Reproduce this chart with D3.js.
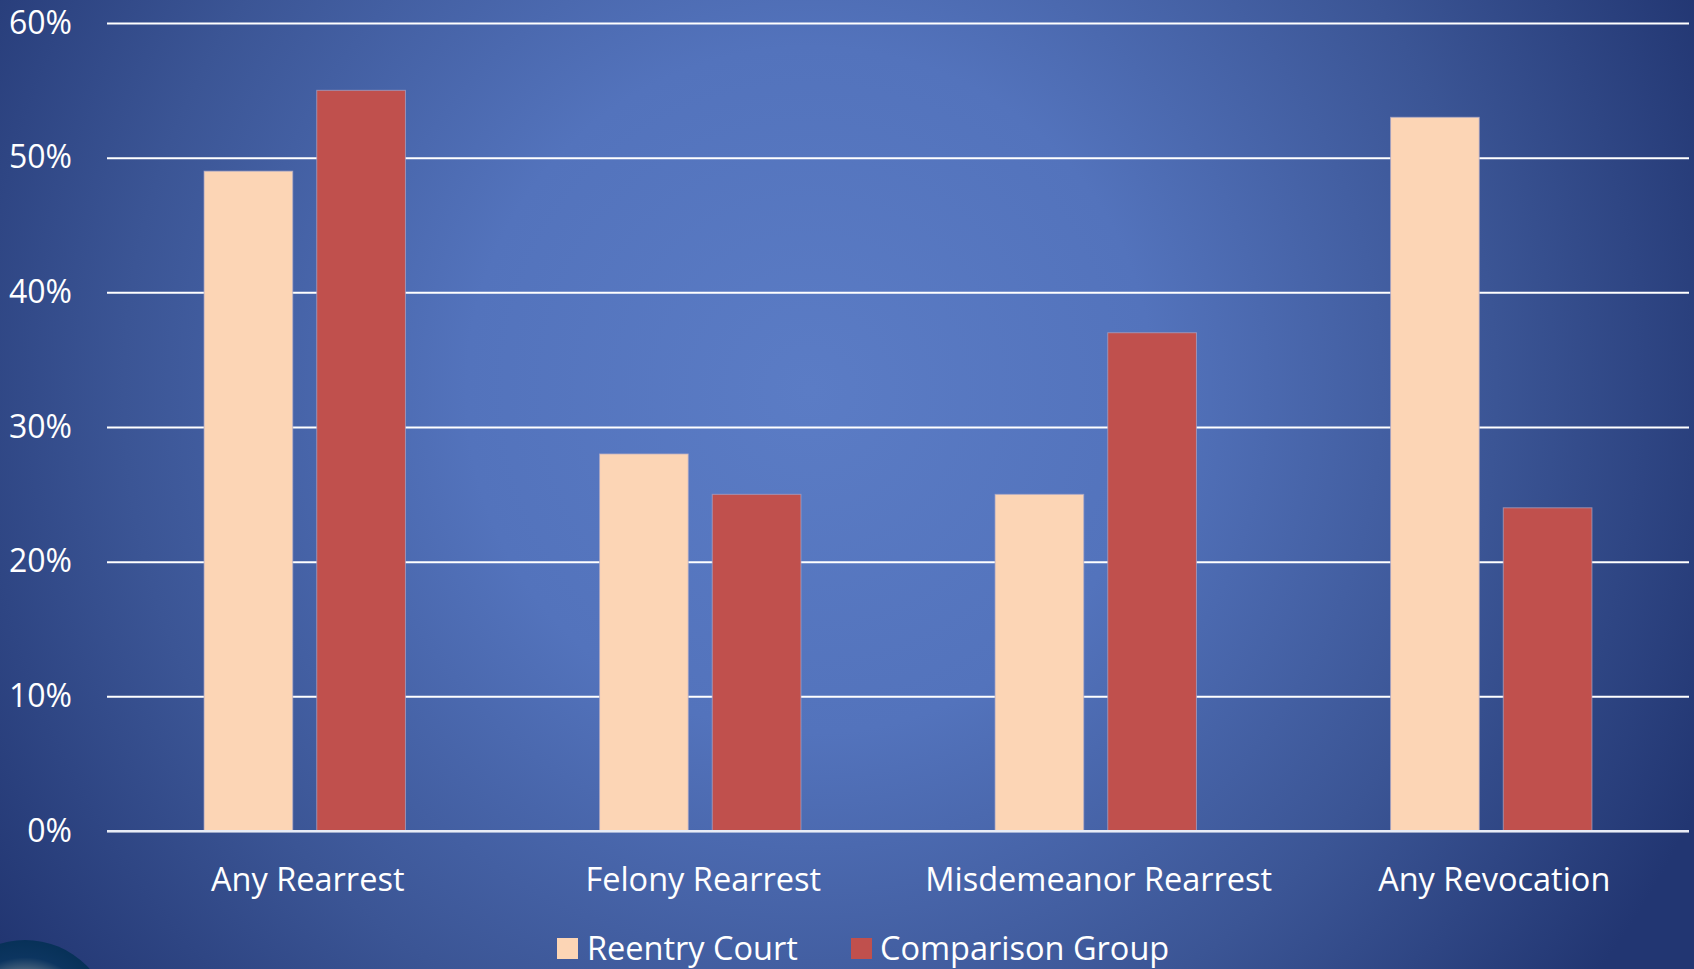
<!DOCTYPE html>
<html>
<head>
<meta charset="utf-8">
<script src="https://cdn.jsdelivr.net/npm/d3@7"></script>
<style>
  html, body { margin: 0; padding: 0; background: #243a78; overflow: hidden; }
  svg { display: block; }
  text { font-family: "Open Sans", "Noto Sans", sans-serif; fill: #ffffff; }
</style>
</head>
<body>
<svg id="chart" width="1694" height="969"></svg>
<script>
// Outcome categories and the two groups compared
const categories = ["Any Rearrest", "Felony Rearrest", "Misdemeanor Rearrest", "Any Revocation"];
const seriesNames = ["Reentry Court", "Comparison Group"];
const reentryCourt = [0.49, 0.28, 0.25, 0.53];
const comparisonGroup = [0.55, 0.25, 0.37, 0.24];
const yTicks = [0, 0.1, 0.2, 0.3, 0.4, 0.5, 0.6];
const seriesColors = ["#fcd5b5", "#c0504d"];

const W = 1694, H = 969;
const svg = d3.select("#chart");

// Background: radial blue glow, darker toward the edges
const defs = svg.append("defs");
const bg = defs.append("radialGradient")
  .attr("id", "bg").attr("gradientUnits", "userSpaceOnUse")
  .attr("cx", 810).attr("cy", 390).attr("r", 980);
bg.append("stop").attr("offset", "0%").attr("stop-color", "#5b7cc5");
bg.append("stop").attr("offset", "35%").attr("stop-color", "#5373bc");
bg.append("stop").attr("offset", "70%").attr("stop-color", "#3b5595");
bg.append("stop").attr("offset", "100%").attr("stop-color", "#223672");
svg.append("rect").attr("width", W).attr("height", H).attr("fill", "url(#bg)");

// Decorative orb peeking in at the bottom-left corner
const orb = defs.append("radialGradient").attr("id", "orb")
  .attr("cx", "50%").attr("cy", "50%").attr("r", "50%");
orb.append("stop").attr("offset", "0%").attr("stop-color", "#b9bcbf");
orb.append("stop").attr("offset", "55%").attr("stop-color", "#6f8190");
orb.append("stop").attr("offset", "80%").attr("stop-color", "#0c3560");
orb.append("stop").attr("offset", "100%").attr("stop-color", "#073158");
svg.append("circle").attr("cx", 25).attr("cy", 1027).attr("r", 87).attr("fill", "url(#orb)");

const plot = { left: 107, right: 1689, top: 23, bottom: 831 };

const y = d3.scaleLinear().domain([0, 0.6]).range([plot.bottom, plot.top]);
const x0 = d3.scaleBand().domain(categories).range([plot.left, plot.right]).padding(0);
const groupWidth = 201.4;
const x1 = d3.scaleBand().domain(seriesNames).range([0, groupWidth]).paddingInner(0.213).paddingOuter(0);

// Gridlines and value axis
const yAxis = d3.axisLeft(y).tickValues(yTicks).tickFormat(d3.format(".0%"))
  .tickSize(-(plot.right - plot.left)).tickPadding(35);
const gy = svg.append("g").attr("transform", `translate(${plot.left},0)`).call(yAxis);
gy.select(".domain").remove();
gy.selectAll(".tick line").attr("stroke", "#ffffff").attr("stroke-width", 2);
gy.selectAll(".tick text")
  .attr("font-size", 32).attr("fill", "#ffffff")
  .style("font-family", '"Open Sans", "Noto Sans", sans-serif');

// Bars
const rows = categories.map((c, i) => ({ category: c, values: [reentryCourt[i], comparisonGroup[i]] }));
const groups = svg.append("g").selectAll("g").data(rows).join("g")
  .attr("transform", d => `translate(${x0(d.category) + (x0.bandwidth() - groupWidth) / 2},0)`);
groups.selectAll("rect")
  .data(d => d.values.map((v, k) => ({ series: seriesNames[k], value: v, k })))
  .join("rect")
  .attr("x", d => x1(d.series))
  .attr("width", x1.bandwidth())
  .attr("y", d => y(d.value))
  .attr("height", d => y(0) - y(d.value))
  .attr("fill", d => seriesColors[d.k])
  .attr("stroke", "#a9a6c8").attr("stroke-opacity", 0.7).attr("stroke-width", 1);

// Baseline drawn over the bar bottoms
svg.append("line")
  .attr("x1", plot.left).attr("x2", plot.right)
  .attr("y1", y(0)).attr("y2", y(0))
  .attr("stroke", "#e8ecf6").attr("stroke-width", 2);

// Category labels
svg.append("g").selectAll("text").data(categories).join("text")
  .attr("x", d => x0(d) + x0.bandwidth() / 2 + 3)
  .attr("y", 891)
  .attr("text-anchor", "middle")
  .attr("font-size", 32.5)
  .text(d => d);

// Legend
const legendItems = [
  { name: seriesNames[0], color: seriesColors[0], sx: 557, tx: 587 },
  { name: seriesNames[1], color: seriesColors[1], sx: 851, tx: 880 }
];
const lg = svg.append("g").selectAll("g").data(legendItems).join("g");
lg.append("rect")
  .attr("x", d => d.sx).attr("y", 938).attr("width", 21).attr("height", 21)
  .attr("fill", d => d.color);
lg.append("text")
  .attr("x", d => d.tx).attr("y", 960)
  .attr("font-size", 32.5)
  .text(d => d.name);
</script>
</body>
</html>
